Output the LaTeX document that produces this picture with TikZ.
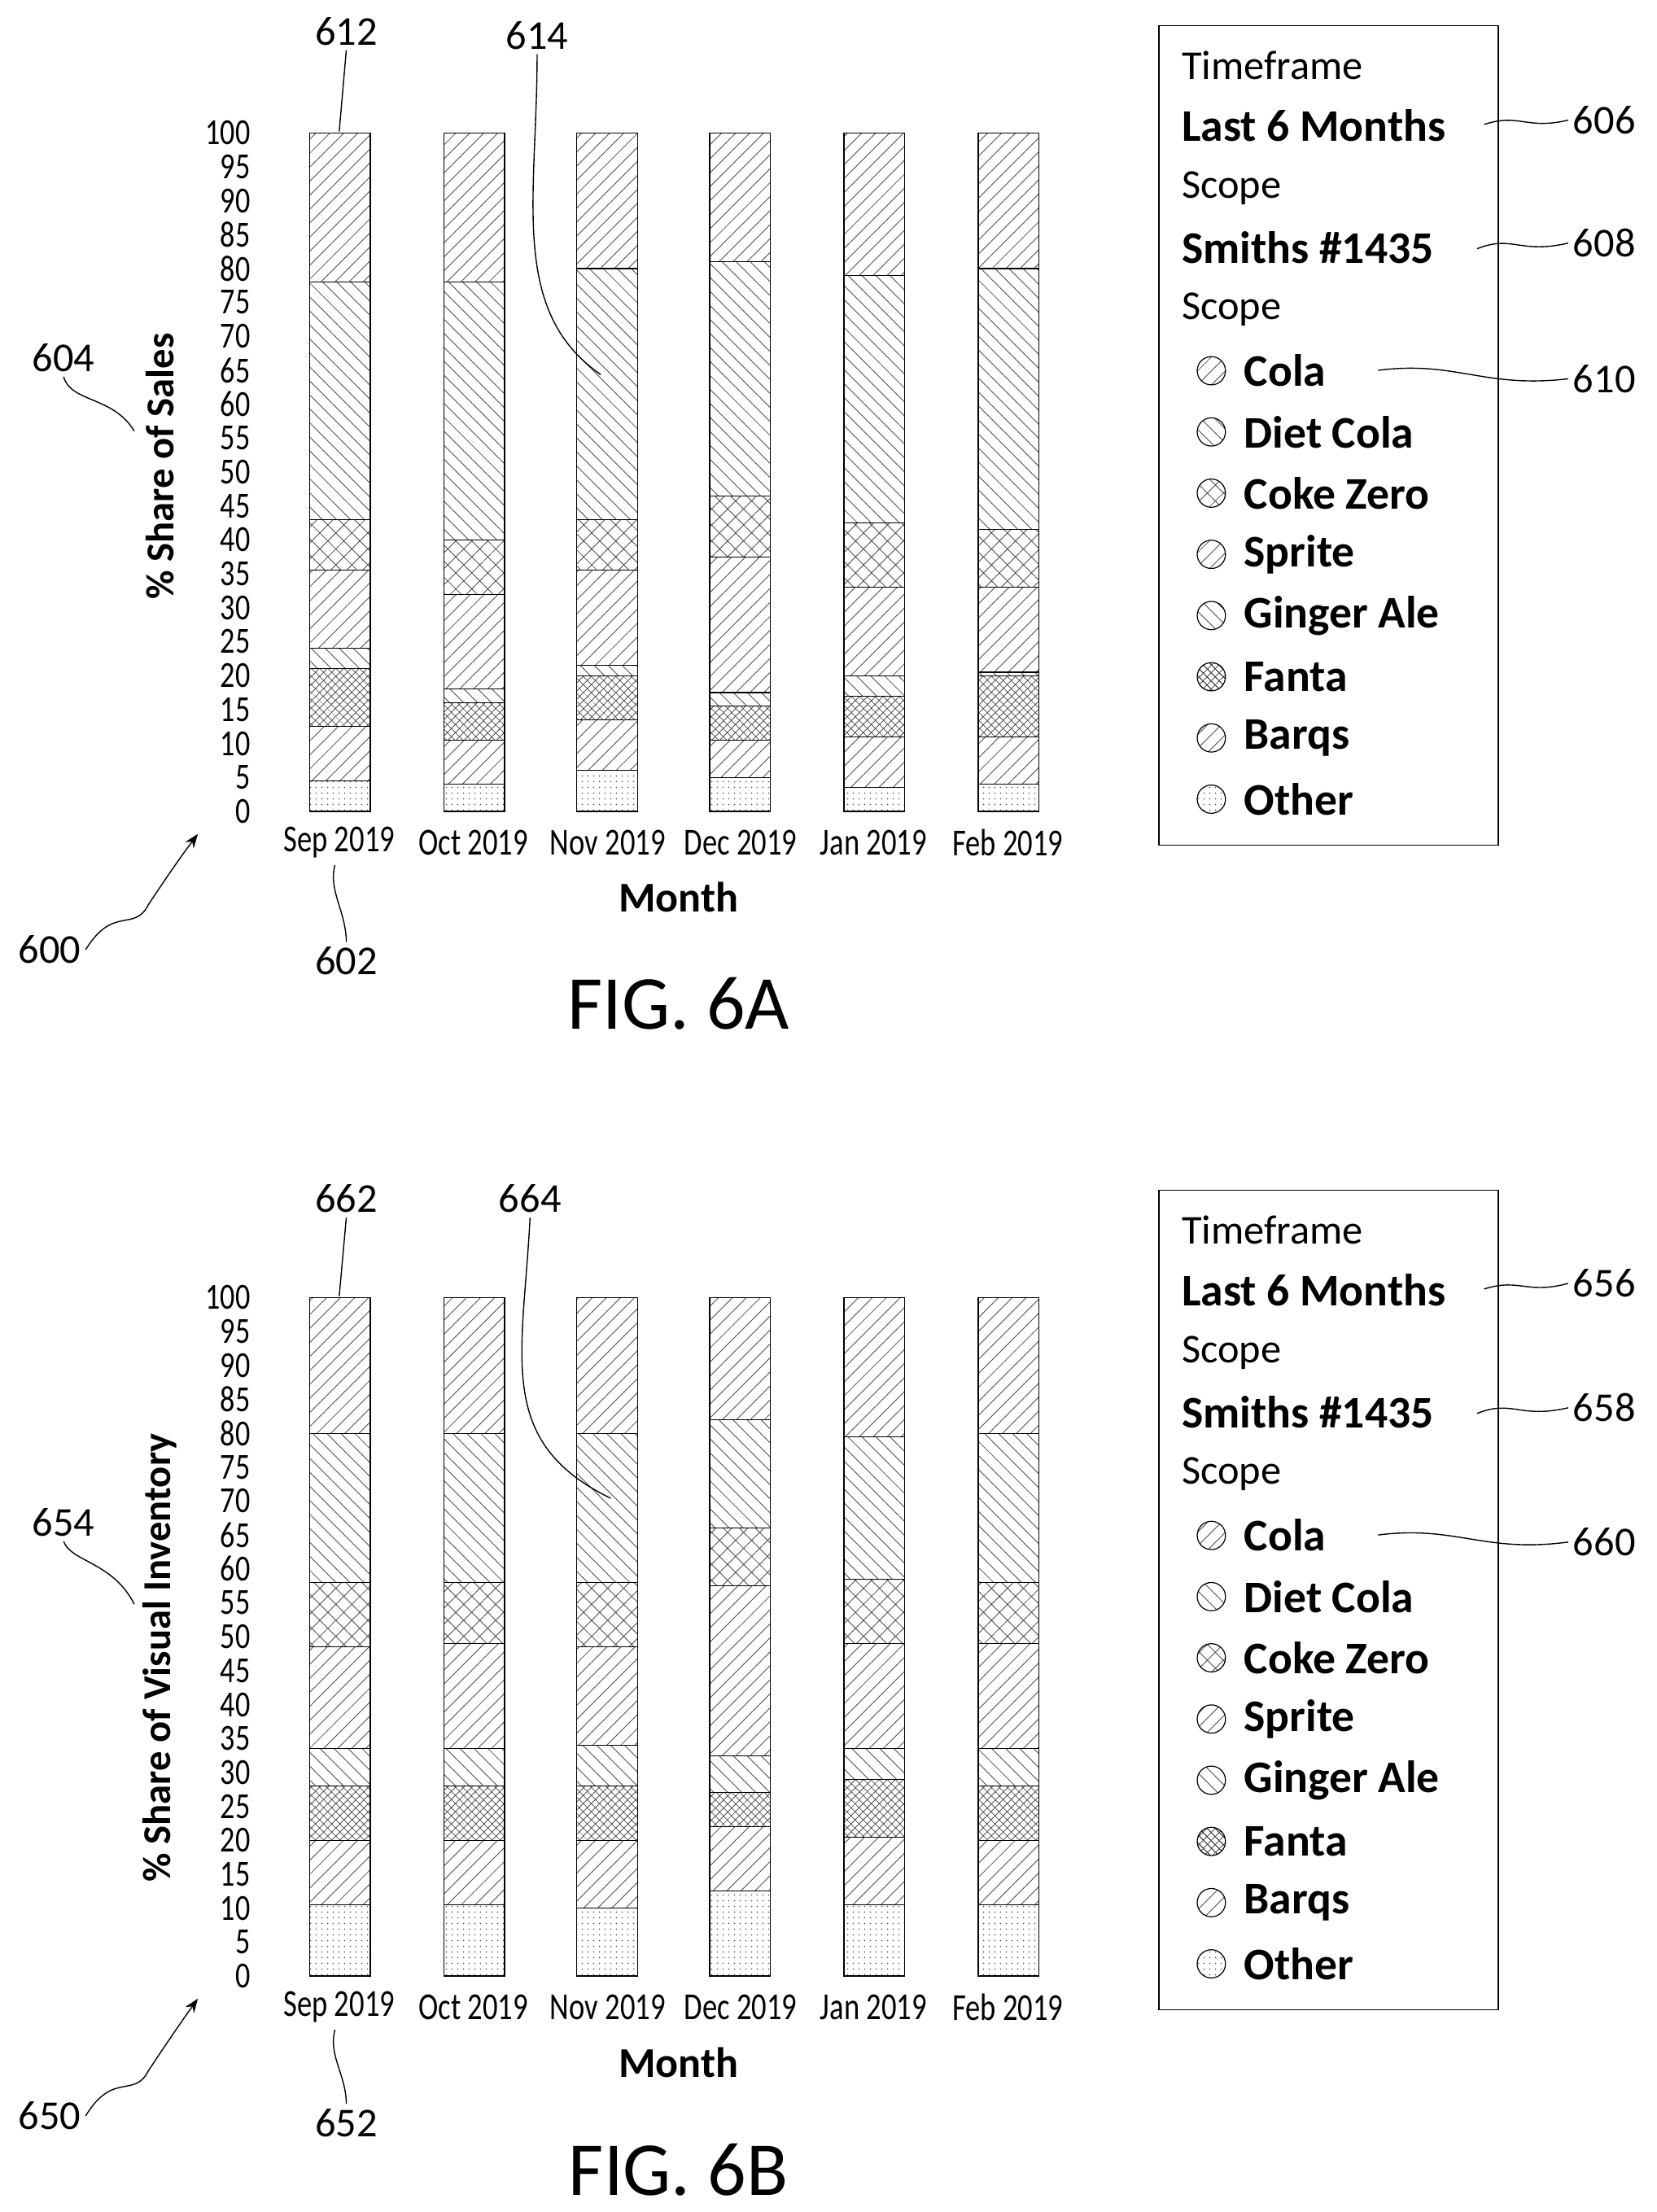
\documentclass[tikz,border=0pt]{standalone}
\usepackage{fontspec}
\setmainfont{Carlito}
\usetikzlibrary{patterns.meta,arrows.meta}
\tikzset{
 tick/.style={anchor=east,font=\fontsize{26}{26}\selectfont,inner sep=1pt,xscale=0.8},
 mon/.style={font=\fontsize{27}{27}\selectfont,xscale=0.78},
 ref/.style={font=\fontsize{29}{29}\selectfont},
 leg/.style={anchor=west,font=\fontsize{29}{29}\selectfont,inner sep=0pt},
 legb/.style={leg,font=\fontsize{32}{32}\selectfont\bfseries},
 lead/.style={line width=0.8pt},
 pA/.style={pattern={Lines[angle=45,distance=7pt,line width=0.5pt]},pattern color=black!70},
 pB/.style={pattern={Lines[angle=-45,distance=7pt,line width=0.5pt]},pattern color=black!70},
 pC/.style={pattern={Hatch[angle=45,distance=8pt,line width=0.5pt]},pattern color=black!70},
 pD/.style={pattern={Dots[distance=4pt,radius=0.5pt]},pattern color=black!70},
 pE/.style={pattern={Hatch[angle=45,distance=4pt,line width=0.5pt]},pattern color=black!70},
}
\newcommand\mychart[3]{%
\begin{scope}[shift={(0,-#1)}]
 \foreach \v in {0,5,...,100} \node[tick] at (178,\v*4.8) {\v};
 \foreach \x/\a/\b/\c/\d/\e/\f/\g [count=\n] in {#2} {
   \begin{scope}[xshift=\x]
   \fill[pD] (0,0) rectangle (43,\a*4.8);
   \fill[pA] (0,\a*4.8) rectangle (43,\b*4.8);
   \fill[pE] (0,\b*4.8) rectangle (43,\c*4.8);
   \fill[pB] (0,\c*4.8) rectangle (43,\d*4.8);
   \fill[pA] (0,\d*4.8) rectangle (43,\e*4.8);
   \fill[pC] (0,\e*4.8) rectangle (43,\f*4.8);
   \fill[pB] (0,\f*4.8) rectangle (43,\g*4.8);
   \fill[pA] (0,\g*4.8) rectangle (43,480);
   \foreach \h in {\a,\b,\c,\d,\e,\f,\g} \draw[line width=0.6pt] (0,\h*4.8) -- (43,\h*4.8);
   \draw[line width=0.8pt] (0,0) rectangle (43,480);
   \end{scope}}
 \foreach \x/\m in {240/Sep 2019,335/Oct 2019,430/Nov 2019,524/Dec 2019,618/Jan 2019,713/Feb 2019}
   \node[mon] at (\x,-22) {\m};
 \node[font=\fontsize{30}{30}\selectfont\bfseries] at (480,-61) {Month};
 \node[rotate=90,font=\fontsize{28}{28}\selectfont\bfseries] at (113,#3) {\mytitle};
\end{scope}}
\newcommand\mylegend[1]{%
\begin{scope}[shift={(0,-#1)}]
 \draw[line width=0.8pt] (820,-18) rectangle (1060,-598);
 \node[leg] at (836,-46) {Timeframe};
 \node[legb] at (836,-89) {Last 6 Months};
 \node[leg] at (836,-133) {Scope};
 \node[legb] at (836,-175) {Smiths \#1435};
 \node[leg] at (836,-219) {Scope};
 \foreach \t/\p [count=\k] in {Cola/pA,Diet Cola/pB,Coke Zero/pC,Sprite/pA,Ginger Ale/pB,Fanta/pE,Barqs/pA,Other/pD} {
   \fill[\p] (857,-219-\k*43.3) circle (10);
   \draw[line width=0.7pt] (857,-219-\k*43.3) circle (10);
   \node[legb] at (880,-219-\k*43.3) {\t};}
\end{scope}}
\begin{document}
\begin{tikzpicture}[x=1pt,y=1pt]
\useasboundingbox (0,0) rectangle (1172,-1565);
\def\mytitle{\% Share of Sales}
\mychart{574}{219/4.5/12.5/21/24/35.5/43/78, 314/4/10.5/16/18/32/40/78, 408/6/13.5/20/21.5/35.5/43/80, 502/5/10.5/15.5/17.5/37.5/46.5/81, 597/3.5/11/17/20/33/42.5/79, 692/4/11/20/20.5/33/41.5/80}{244}
\mylegend{0}
\def\mytitle{\% Share of Visual Inventory}
\mychart{1398}{219/10.5/20/28/33.5/48.5/58/80, 314/10.5/20/28/33.5/49/58/80, 408/10/20/28/34/48.5/58/80, 502/12.5/22/27/32.5/57.5/66/82, 597/10.5/20.5/29/33.5/49/58.5/79.5, 692/10.5/20/28/33.5/49/58/80}{225}
\mylegend{824}
\node[font=\fontsize{54}{54}\selectfont] at (480,-710) {FIG. 6A};
\node[font=\fontsize{54}{54}\selectfont] at (480,-1535) {FIG. 6B};
\node[ref] (r606) at (1135,-85) {606};
\draw[lead] (1050,-88) .. controls (1075,-80) and (1080,-92) .. (r606.west);
\node[ref] (r608) at (1135,-172) {608};
\draw[lead] (1045,-176) .. controls (1070,-166) and (1075,-180) .. (r608.west);
\node[ref] (r610) at (1135,-268) {610};
\draw[lead] (975,-262) .. controls (1030,-255) and (1050,-275) .. (r610.west);
\node[ref] (r612) at (245,-22) {612};
\draw[lead] (r612.south) -- (240,-93);
\node[ref] (r614) at (380,-25) {614};
\draw[lead] (r614.south) .. controls (380,-140) and (360,-220) .. (425,-265);
\node[ref] (r604) at (45,-253) {604};
\draw[lead] (r604.south) .. controls (50,-285) and (80,-280) .. (95,-305);
\node[ref] (r602) at (245,-680) {602};
\draw[lead] (237,-612) .. controls (232,-630) and (245,-645) .. (r602.north);
\node[ref] (r600) at (35,-672) {600};
\draw[lead,-{Stealth[length=10pt]}] (r600.east) .. controls (80,-640) and (95,-660) .. (105,-640) .. controls (115,-625) and (125,-610) .. (140,-590);
\node[ref] (r656) at (1135,-908) {656};
\draw[lead] (1050,-912) .. controls (1075,-904) and (1080,-916) .. (r656.west);
\node[ref] (r658) at (1135,-996) {658};
\draw[lead] (1045,-1000) .. controls (1070,-990) and (1075,-1004) .. (r658.west);
\node[ref] (r660) at (1135,-1091) {660};
\draw[lead] (975,-1086) .. controls (1030,-1079) and (1050,-1099) .. (r660.west);
\node[ref] (r662) at (245,-848) {662};
\draw[lead] (r662.south) -- (240,-917);
\node[ref] (r664) at (375,-848) {664};
\draw[lead] (r664.south) .. controls (370,-960) and (350,-1020) .. (432,-1060);
\node[ref] (r654) at (45,-1077) {654};
\draw[lead] (r654.south) .. controls (50,-1105) and (80,-1105) .. (95,-1135);
\node[ref] (r652) at (245,-1502) {652};
\draw[lead] (237,-1436) .. controls (232,-1454) and (245,-1468) .. (r652.north);
\node[ref] (r650) at (35,-1497) {650};
\draw[lead,-{Stealth[length=10pt]}] (r650.east) .. controls (80,-1465) and (95,-1485) .. (105,-1465) .. controls (115,-1450) and (125,-1435) .. (140,-1414);
\end{tikzpicture}
\end{document}
